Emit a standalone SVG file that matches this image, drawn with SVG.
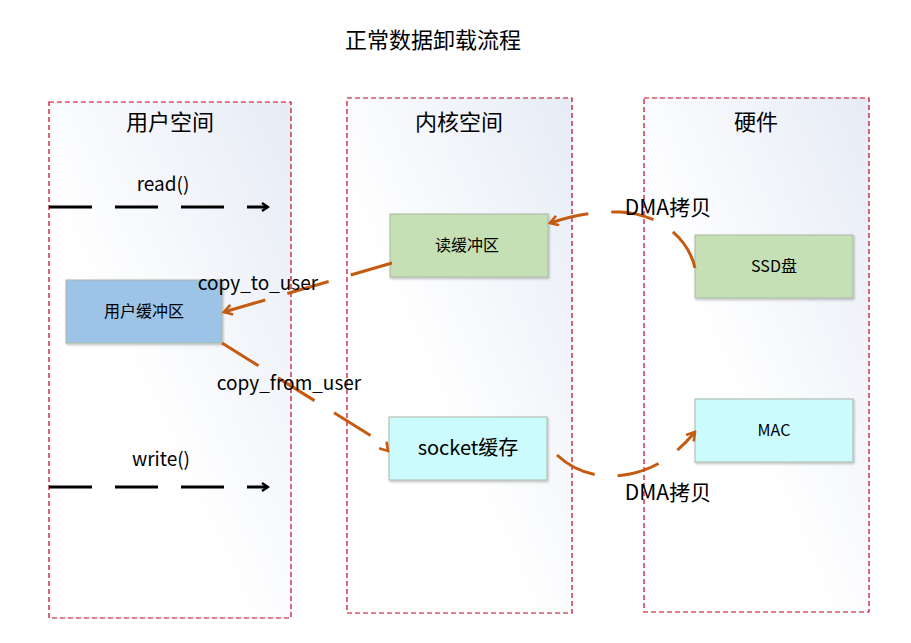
<svg xmlns="http://www.w3.org/2000/svg" width="911" height="643" viewBox="0 0 911 643">
<defs>
<linearGradient id="bg" x1="1" y1="0" x2="0" y2="1">
<stop offset="0" stop-color="#e6ebf5"/>
<stop offset="0.6" stop-color="#ffffff"/>
<stop offset="1" stop-color="#ffffff"/>
</linearGradient>
<filter id="sh" x="-10%" y="-10%" width="130%" height="130%">
<feDropShadow dx="1" dy="1.5" stdDeviation="1" flood-color="#000" flood-opacity="0.25"/>
</filter>
<marker id="ab" viewBox="0 0 10 10" refX="8" refY="5" markerWidth="10" markerHeight="10" markerUnits="userSpaceOnUse" orient="auto">
<path d="M2,1 L8,5 L2,9" fill="none" stroke="#000" stroke-width="2.4"/>
</marker>
<marker id="ao" viewBox="0 0 12 12" refX="10" refY="6" markerWidth="12" markerHeight="12" markerUnits="userSpaceOnUse" orient="auto">
<path d="M2,1 L10,6 L2,11" fill="none" stroke="#c55a11" stroke-width="2.6"/>
</marker>
</defs>
<style>
.zone{fill:url(#bg);stroke:#c8001e;stroke-width:1.2;stroke-dasharray:5 3}
.t{font-family:"Noto Sans CJK SC","Microsoft YaHei",sans-serif;fill:#000;text-anchor:middle}
.box{stroke:#a9b8a6;stroke-width:1;filter:url(#sh)}
.dl{fill:none;stroke:#000;stroke-width:3;stroke-dasharray:43 23}
.ol{fill:none;stroke:#c55a11;stroke-width:3;stroke-dasharray:43 23}
</style>
<rect width="911" height="643" fill="#fff"/>
<text class="t" x="433" y="48" font-size="22">正常数据卸载流程</text>

<g id="user-space">
<rect class="zone" x="49" y="102" width="242" height="516"/>
<text class="t" x="170" y="130" font-size="22">用户空间</text>
</g>
<g id="kernel-space">
<rect class="zone" x="347" y="98" width="225" height="515"/>
<text class="t" x="459" y="130" font-size="22">内核空间</text>
</g>
<g id="hardware">
<rect class="zone" x="644" y="98" width="225" height="514"/>
<text class="t" x="756" y="130" font-size="22">硬件</text>
</g>

<g id="read-call">
<text class="t" x="163" y="191" font-size="19">read()</text>
</g>
<g id="write-call">
<text class="t" x="161" y="466" font-size="19">write()</text>
</g>

<g id="read-buffer">
<rect class="box" x="390" y="214" width="158" height="63" fill="#c5e0b4"/>
<text class="t" x="467" y="251" font-size="16">读缓冲区</text>
</g>
<g id="ssd">
<rect class="box" x="695" y="235" width="158" height="63" fill="#c5e0b4"/>
<text class="t" x="774" y="272" font-size="16">SSD盘</text>
</g>
<g id="user-buffer">
<rect class="box" x="66" y="280" width="156" height="63" fill="#9dc3e6" stroke="#9db4cc"/>
<text class="t" x="144" y="317" font-size="16">用户缓冲区</text>
</g>
<g id="socket-buffer">
<rect class="box" x="389" y="417" width="158" height="63" fill="#ccfbfd" stroke="#a9c6cc"/>
<text class="t" x="468" y="455" font-size="20">socket缓存</text>
</g>
<g id="mac">
<rect class="box" x="695" y="399" width="158" height="63" fill="#ccfbfd" stroke="#a9c6cc"/>
<text class="t" x="774" y="436" font-size="16">MAC</text>
</g>

<g id="connectors">
<path class="dl" d="M49,207 L268,207" marker-end="url(#ab)"/>
<path class="dl" d="M49,487 L268,487" marker-end="url(#ab)"/>
<path class="ol" d="M695,268 C688,238 660,214 620,212 C592,211 568,217 550,223" marker-end="url(#ao)"/>
<path class="ol" d="M392,263 L224,312" marker-end="url(#ao)"/>
<path class="ol" d="M222,343 L373,437 Q382,444 388,451" marker-end="url(#ao)"/>
<path class="ol" d="M557,455 C575,472 600,480 630,474 C660,468 680,450 695,432" marker-end="url(#ao)"/>
<text class="t" x="258" y="290" font-size="19">copy_to_user</text>
<text class="t" x="289" y="390" font-size="19">copy_from_user</text>
<text class="t" x="668" y="215" font-size="21">DMA拷贝</text>
<text class="t" x="668" y="500" font-size="21">DMA拷贝</text>
</g>
</svg>
